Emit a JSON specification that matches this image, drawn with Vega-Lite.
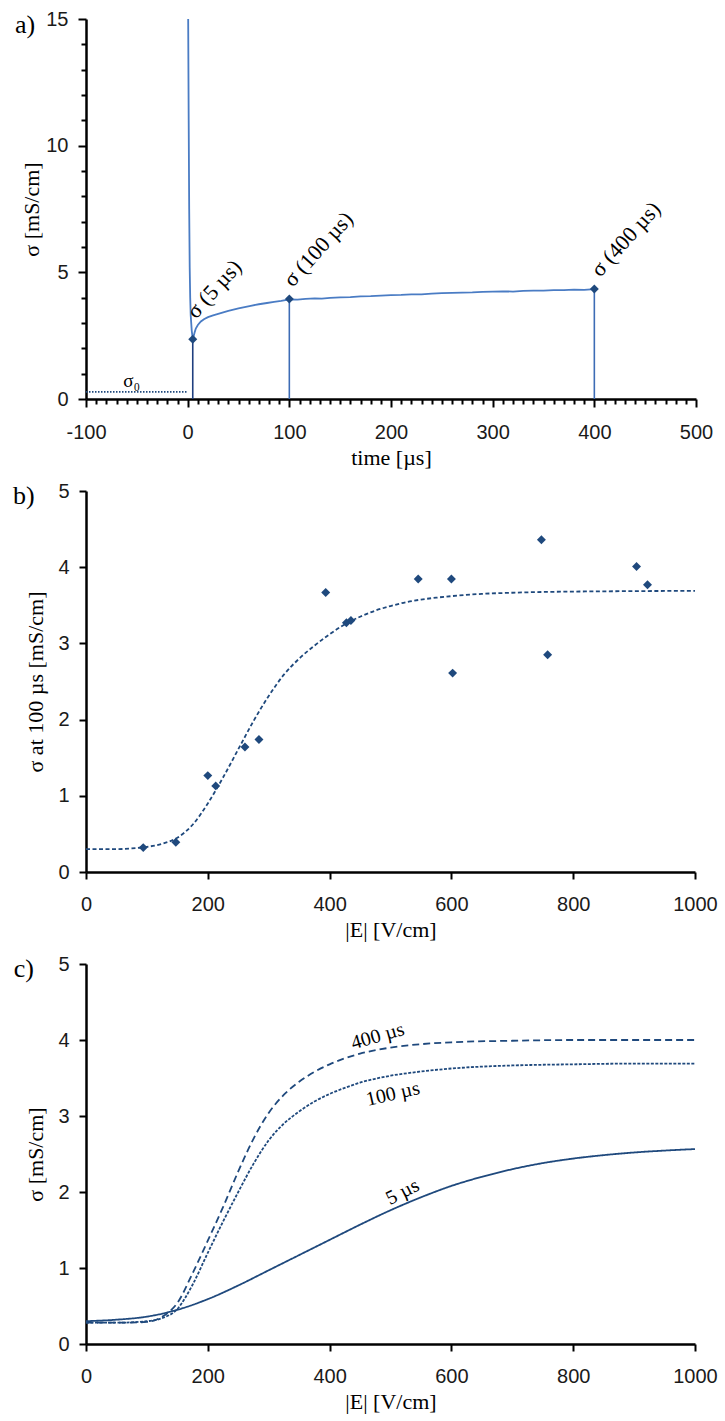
{
  "$schema": "https://vega.github.io/schema/vega-lite/v6.json",
  "background": "white",
  "padding": {"left": 13, "top": 9, "right": 5, "bottom": 5},
  "bounds": "flush",
  "spacing": 92,
  "config": {
    "view": {"stroke": null},
    "axis": {
      "domainColor": "#000", "domainWidth": 2.5, "tickColor": "#000", "tickWidth": 2, "tickSize": 7,
      "labelFont": "Liberation Sans, Arial, Helvetica, sans-serif", "labelFontSize": 20, "labelColor": "#1a1a1a",
      "titleFont": "Liberation Serif, Times New Roman, Times, serif", "titleFontSize": 22, "titleFontWeight": "normal", "titleColor": "#000",
      "grid": false, "labelFlush": false, "labelOverlap": false
    },
    "axisX": {"labelPadding": 15, "titlePadding": 5},
    "axisY": {"labelPadding": 10}
  },
  "datasets": {
    "a_curve": [
      {"t":0.5,"s":15},{"t":1,"s":11},{"t":1.5,"s":7.5},{"t":2,"s":5.2},{"t":2.5,"s":4.0},{"t":3,"s":3.3},{"t":4,"s":2.7},{"t":5,"s":2.36},{"t":6,"s":2.5},{"t":7,"s":2.65},{"t":8,"s":2.78},{"t":10,"s":2.92},{"t":13,"s":3.06},{"t":16,"s":3.15},{"t":20,"s":3.23},{"t":25,"s":3.3},{"t":30,"s":3.36},{"t":35,"s":3.42},{"t":40,"s":3.48},{"t":45,"s":3.53},{"t":50,"s":3.58},{"t":56,"s":3.63},{"t":62,"s":3.68},{"t":70,"s":3.74},{"t":78,"s":3.79},{"t":85,"s":3.83},{"t":92,"s":3.87},{"t":100,"s":3.93},{"t":108,"s":3.92},{"t":116,"s":3.95},{"t":125,"s":3.97},{"t":132,"s":3.96},{"t":140,"s":3.99},{"t":150,"s":4.01},{"t":160,"s":4.02},{"t":170,"s":4.05},{"t":180,"s":4.06},{"t":190,"s":4.08},{"t":200,"s":4.1},{"t":210,"s":4.11},{"t":220,"s":4.13},{"t":230,"s":4.13},{"t":240,"s":4.16},{"t":250,"s":4.18},{"t":260,"s":4.19},{"t":270,"s":4.2},{"t":280,"s":4.21},{"t":290,"s":4.23},{"t":300,"s":4.24},{"t":310,"s":4.25},{"t":320,"s":4.24},{"t":330,"s":4.27},{"t":340,"s":4.28},{"t":350,"s":4.28},{"t":360,"s":4.3},{"t":370,"s":4.3},{"t":380,"s":4.32},{"t":390,"s":4.31},{"t":400,"s":4.34}
    ],
    "a_marks": [{"t":5,"s":2.36},{"t":100,"s":3.95},{"t":400,"s":4.34}],
    "a_labels": [{"t":8.2,"s":3.13,"label":"σ (5 µs)"},{"t":103.3,"s":4.38,"label":"σ (100 µs)"},{"t":405.8,"s":4.78,"label":"σ (400 µs)"}],
    "a_sigma0": [{"t":-100,"s":0.28},{"t":0,"s":0.28}],
    "a_sub": [{"t":-55,"s":0.28,"label":"σ₀"}],
    "a_tag": [{"t":-160,"s":14.75,"label":"a)"}],
    "b_fit": [
      {"E":0,"s":0.30},{"E":50,"s":0.30},{"E":75,"s":0.31},{"E":100,"s":0.33},{"E":125,"s":0.37},{"E":150,"s":0.45},{"E":175,"s":0.62},{"E":200,"s":0.90},{"E":225,"s":1.24},{"E":250,"s":1.61},{"E":275,"s":1.98},{"E":300,"s":2.31},{"E":325,"s":2.59},{"E":350,"s":2.80},{"E":375,"s":2.97},{"E":400,"s":3.12},{"E":425,"s":3.25},{"E":450,"s":3.35},{"E":475,"s":3.43},{"E":500,"s":3.49},{"E":525,"s":3.54},{"E":550,"s":3.575},{"E":575,"s":3.60},{"E":600,"s":3.62},{"E":650,"s":3.65},{"E":700,"s":3.665},{"E":750,"s":3.675},{"E":800,"s":3.68},{"E":900,"s":3.686},{"E":1000,"s":3.69}
    ],
    "b_pts": [
      {"E":94,"s":0.32},{"E":147.5,"s":0.39},{"E":200,"s":1.265},{"E":213,"s":1.13},{"E":261,"s":1.64},{"E":284,"s":1.74},{"E":393.6,"s":3.667},{"E":427.6,"s":3.27},{"E":435,"s":3.30},{"E":545.5,"s":3.845},{"E":600,"s":3.845},{"E":602,"s":2.61},{"E":747.8,"s":4.36},{"E":758,"s":2.85},{"E":904,"s":4.01},{"E":922,"s":3.77}
    ],
    "b_tag": [{"E":-102,"s":4.93,"label":"b)"}],
    "c_curves": [
      {"E":0,"s":0.30,"series":"5 µs"},{"E":50,"s":0.32,"series":"5 µs"},{"E":100,"s":0.36,"series":"5 µs"},{"E":150,"s":0.45,"series":"5 µs"},{"E":200,"s":0.59,"series":"5 µs"},{"E":250,"s":0.77,"series":"5 µs"},{"E":300,"s":0.97,"series":"5 µs"},{"E":350,"s":1.17,"series":"5 µs"},{"E":400,"s":1.37,"series":"5 µs"},{"E":450,"s":1.57,"series":"5 µs"},{"E":500,"s":1.76,"series":"5 µs"},{"E":550,"s":1.93,"series":"5 µs"},{"E":600,"s":2.08,"series":"5 µs"},{"E":650,"s":2.20,"series":"5 µs"},{"E":700,"s":2.30,"series":"5 µs"},{"E":750,"s":2.38,"series":"5 µs"},{"E":800,"s":2.44,"series":"5 µs"},{"E":850,"s":2.485,"series":"5 µs"},{"E":900,"s":2.52,"series":"5 µs"},{"E":950,"s":2.545,"series":"5 µs"},{"E":1000,"s":2.565,"series":"5 µs"},
      {"E":0,"s":0.28,"series":"100 µs"},{"E":50,"s":0.28,"series":"100 µs"},{"E":100,"s":0.30,"series":"100 µs"},{"E":125,"s":0.34,"series":"100 µs"},{"E":150,"s":0.46,"series":"100 µs"},{"E":175,"s":0.78,"series":"100 µs"},{"E":200,"s":1.20,"series":"100 µs"},{"E":225,"s":1.61,"series":"100 µs"},{"E":250,"s":2.00,"series":"100 µs"},{"E":275,"s":2.37,"series":"100 µs"},{"E":300,"s":2.68,"series":"100 µs"},{"E":325,"s":2.90,"series":"100 µs"},{"E":350,"s":3.06,"series":"100 µs"},{"E":375,"s":3.19,"series":"100 µs"},{"E":400,"s":3.29,"series":"100 µs"},{"E":425,"s":3.37,"series":"100 µs"},{"E":450,"s":3.44,"series":"100 µs"},{"E":475,"s":3.49,"series":"100 µs"},{"E":500,"s":3.53,"series":"100 µs"},{"E":550,"s":3.585,"series":"100 µs"},{"E":600,"s":3.625,"series":"100 µs"},{"E":650,"s":3.65,"series":"100 µs"},{"E":700,"s":3.665,"series":"100 µs"},{"E":800,"s":3.68,"series":"100 µs"},{"E":900,"s":3.69,"series":"100 µs"},{"E":1000,"s":3.69,"series":"100 µs"},
      {"E":0,"s":0.28,"series":"400 µs"},{"E":50,"s":0.28,"series":"400 µs"},{"E":100,"s":0.29,"series":"400 µs"},{"E":125,"s":0.36,"series":"400 µs"},{"E":150,"s":0.54,"series":"400 µs"},{"E":175,"s":0.93,"series":"400 µs"},{"E":200,"s":1.36,"series":"400 µs"},{"E":225,"s":1.80,"series":"400 µs"},{"E":250,"s":2.27,"series":"400 µs"},{"E":275,"s":2.70,"series":"400 µs"},{"E":300,"s":3.04,"series":"400 µs"},{"E":325,"s":3.28,"series":"400 µs"},{"E":350,"s":3.45,"series":"400 µs"},{"E":375,"s":3.58,"series":"400 µs"},{"E":400,"s":3.68,"series":"400 µs"},{"E":450,"s":3.82,"series":"400 µs"},{"E":500,"s":3.90,"series":"400 µs"},{"E":550,"s":3.945,"series":"400 µs"},{"E":600,"s":3.97,"series":"400 µs"},{"E":700,"s":3.99,"series":"400 µs"},{"E":800,"s":4.0,"series":"400 µs"},{"E":900,"s":4.0,"series":"400 µs"},{"E":1000,"s":4.0,"series":"400 µs"}
    ],
    "c_labels": [{"E":479,"s":4.05,"label":"400 µs"},{"E":504,"s":3.29,"label":"100 µs"},{"E":520,"s":2.0,"label":"5 µs"}],
    "c_tag": [{"E":-102,"s":4.93,"label":"c)"}]
  },
  "vconcat": [
    {
      "width": 610, "height": 380,
      "encoding": {
        "x": {"field": "t", "type": "quantitative", "scale": {"domain": [-100, 500], "nice": false, "zero": false},
          "axis": {"title": "time [µs]",
            "values": [-100,-90,-80,-70,-60,-50,-40,-30,-20,-10,0,10,20,30,40,50,60,70,80,90,100,110,120,130,140,150,160,170,180,190,200,210,220,230,240,250,260,270,280,290,300,310,320,330,340,350,360,370,380,390,400,410,420,430,440,450,460,470,480,490,500],
            "labelExpr": "datum.value % 100 === 0 ? '' + datum.value : ''",
            "tickSize": {"condition": {"test": "datum.value % 100 === 0", "value": 8}, "value": 5}}},
        "y": {"field": "s", "type": "quantitative", "scale": {"domain": [0, 15], "nice": false},
          "axis": {"title": "σ [mS/cm]", "titlePadding": 2,
            "values": [0,1,2,3,4,5,6,7,8,9,10,11,12,13,14,15],
            "labelExpr": "datum.value % 5 === 0 ? '' + datum.value : ''",
            "tickSize": {"condition": {"test": "datum.value % 5 === 0", "value": 8}, "value": 5}}}
      },
      "layer": [
        {"data": {"name": "a_sigma0"}, "mark": {"type": "line", "color": "#1F497D", "strokeDash": [1.5, 1.5], "strokeWidth": 1.6}},
        {"data": {"name": "a_marks"}, "mark": {"type": "rule", "strokeWidth": 1.6},
          "encoding": {"y2": {"datum": 0}, "color": {"condition": {"test": "datum.t < 50", "value": "#1F3F7F"}, "value": "#3D6CB5"}}},
        {"data": {"name": "a_curve"}, "mark": {"type": "line", "color": "#4A7CC4", "strokeWidth": 1.8}},
        {"data": {"name": "a_marks"}, "mark": {"type": "point", "shape": "diamond", "filled": true, "size": 80, "color": "#1F497D", "opacity": 1}},
        {"data": {"name": "a_labels"}, "mark": {"type": "text", "angle": -48, "align": "left", "baseline": "alphabetic", "font": "Liberation Serif, Times New Roman, Times, serif", "fontSize": 22, "color": "#000"}, "encoding": {"text": {"field": "label"}}},
        {"data": {"name": "a_sub"}, "mark": {"type": "text", "font": "Liberation Serif, Times New Roman, Times, serif", "fontSize": 19, "baseline": "bottom", "dy": -1, "color": "#000"}, "encoding": {"text": {"field": "label"}}},
        {"data": {"name": "a_tag"}, "mark": {"type": "text", "font": "Liberation Serif, Times New Roman, Times, serif", "fontSize": 26, "color": "#000"}, "encoding": {"text": {"field": "label"}}}
      ]
    },
    {
      "width": 609, "height": 381,
      "encoding": {
        "x": {"field": "E", "type": "quantitative", "scale": {"domain": [0, 1000], "nice": false},
          "axis": {"title": "|E| [V/cm]", "values": [0,200,400,600,800,1000], "labelExpr": "'' + datum.value"}},
        "y": {"field": "s", "type": "quantitative", "scale": {"domain": [0, 5], "nice": false},
          "axis": {"title": "σ at 100 µs [mS/cm]", "titlePadding": 10, "values": [0,1,2,3,4,5]}}
      },
      "layer": [
        {"data": {"name": "b_fit"}, "mark": {"type": "line", "color": "#1F497D", "strokeDash": [4, 2.5], "strokeWidth": 1.8, "interpolate": "monotone"}},
        {"data": {"name": "b_pts"}, "mark": {"type": "point", "shape": "diamond", "filled": true, "size": 80, "color": "#1F497D", "opacity": 1}},
        {"data": {"name": "b_tag"}, "mark": {"type": "text", "font": "Liberation Serif, Times New Roman, Times, serif", "fontSize": 26, "color": "#000"}, "encoding": {"text": {"field": "label"}}}
      ]
    },
    {
      "width": 609, "height": 380,
      "encoding": {
        "x": {"field": "E", "type": "quantitative", "scale": {"domain": [0, 1000], "nice": false},
          "axis": {"title": "|E| [V/cm]", "values": [0,200,400,600,800,1000], "labelExpr": "'' + datum.value"}},
        "y": {"field": "s", "type": "quantitative", "scale": {"domain": [0, 5], "nice": false},
          "axis": {"title": "σ [mS/cm]", "titlePadding": 10, "values": [0,1,2,3,4,5]}}
      },
      "layer": [
        {"data": {"name": "c_curves"}, "mark": {"type": "line", "color": "#1F497D", "strokeWidth": 1.8, "interpolate": "monotone"},
          "encoding": {"strokeDash": {"field": "series", "type": "nominal", "scale": {"domain": ["5 µs", "100 µs", "400 µs"], "range": [[1, 0], [3, 1.5], [7, 4]]}, "legend": null}}},
        {"data": {"name": "c_labels"}, "transform": [{"filter": "datum.label === '400 µs'"}], "mark": {"type": "text", "angle": -16, "font": "Liberation Serif, Times New Roman, Times, serif", "fontSize": 20, "color": "#000"}, "encoding": {"text": {"field": "label"}}},
        {"data": {"name": "c_labels"}, "transform": [{"filter": "datum.label === '100 µs'"}], "mark": {"type": "text", "angle": -13, "font": "Liberation Serif, Times New Roman, Times, serif", "fontSize": 20, "color": "#000"}, "encoding": {"text": {"field": "label"}}},
        {"data": {"name": "c_labels"}, "transform": [{"filter": "datum.label === '5 µs'"}], "mark": {"type": "text", "angle": -27, "font": "Liberation Serif, Times New Roman, Times, serif", "fontSize": 20, "color": "#000"}, "encoding": {"text": {"field": "label"}}},
        {"data": {"name": "c_tag"}, "mark": {"type": "text", "font": "Liberation Serif, Times New Roman, Times, serif", "fontSize": 26, "color": "#000"}, "encoding": {"text": {"field": "label"}}}
      ]
    }
  ]
}
